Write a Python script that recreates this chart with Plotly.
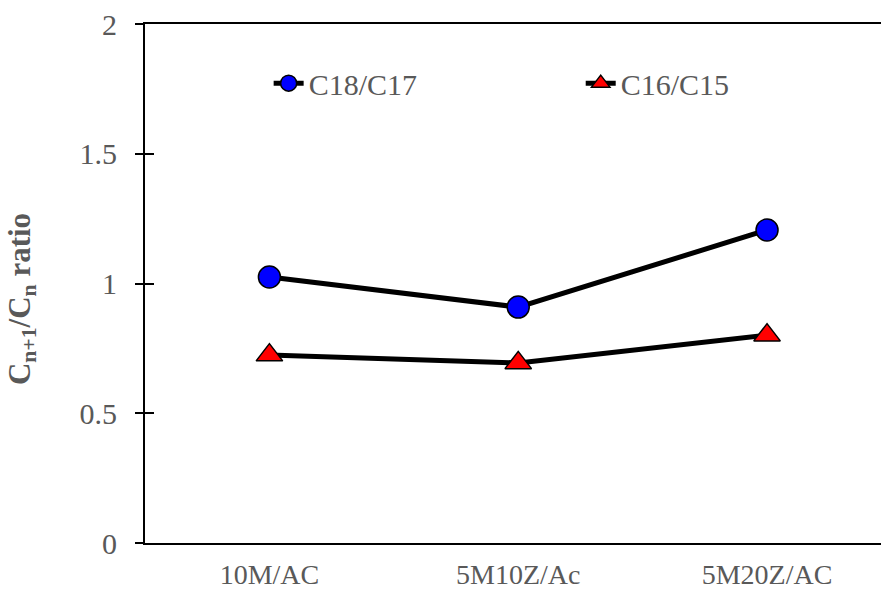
import plotly.graph_objects as go

# Catalyst samples along the x axis
categories = ["10M/AC", "5M10Z/Ac", "5M20Z/AC"]
x_pos = [0, 1, 2]

# Odd/even carbon-number ratios for each sample
c18_c17 = [1.025, 0.909, 1.206]
c16_c15 = [0.724, 0.694, 0.801]

y_ticks = [0, 0.5, 1, 1.5, 2]
y_tick_text = ["0", "0.5", "1", "1.5", "2"]

FONT = "Liberation Serif"
GRAY = "#595959"

fig = go.Figure()

fig.add_trace(go.Scatter(
    x=x_pos, y=c18_c17, name="C18/C17", mode="lines+markers",
    line=dict(color="black", width=5),
    marker=dict(symbol="circle", size=22, color="#0000FF",
                line=dict(color="black", width=1.5)),
    legend="legend",
))
fig.add_trace(go.Scatter(
    x=x_pos, y=c16_c15, name="C16/C15", mode="lines+markers",
    line=dict(color="black", width=5),
    marker=dict(symbol="triangle-up", size=23, color="#FF0000",
                line=dict(color="black", width=1.5)),
    legend="legend2",
))

legend_style = dict(
    bgcolor="rgba(0,0,0,0)", borderwidth=0,
    font=dict(family=FONT, size=30, color=GRAY),
    yanchor="middle", xanchor="left",
)

fig.update_layout(
    width=881, height=590,
    margin=dict(l=145, r=0, t=24, b=47),
    paper_bgcolor="white", plot_bgcolor="white",
    font=dict(family=FONT, size=30, color=GRAY),
    showlegend=True,
    legend=dict(x=0.168, y=0.886, **legend_style),
    legend2=dict(x=0.592, y=0.886, **legend_style),
    xaxis=dict(
        range=[-0.5, 2.458],
        tickvals=x_pos, ticktext=categories,
        showgrid=False, zeroline=False, automargin=False,
        showline=True, linecolor="black", linewidth=2, mirror=True,
        ticks="", ticklabelstandoff=5,
        tickfont=dict(family=FONT, size=28, color=GRAY),
    ),
    yaxis=dict(
        range=[0, 2],
        tickvals=y_ticks, ticktext=y_tick_text,
        showgrid=False, zeroline=False, automargin=False,
        showline=True, linecolor="black", linewidth=2,
        ticks="outside", ticklen=8, tickwidth=2, tickcolor="black",
        ticklabelstandoff=12,
        tickfont=dict(family=FONT, size=30, color=GRAY),
    ),
    # companion axis carrying the inward half of the y ticks
    yaxis2=dict(
        range=[0, 2], overlaying="y", side="left",
        tickvals=y_ticks, showticklabels=False,
        ticks="inside", ticklen=9, tickwidth=2, tickcolor="black",
        showgrid=False, zeroline=False, showline=False, automargin=False,
    ),
    annotations=[dict(
        text="<b>C<sub>n+1</sub>/C<sub>n</sub> ratio</b>",
        xref="paper", yref="paper", x=-0.1671, y=0.470,
        xanchor="center", yanchor="middle", textangle=-90,
        showarrow=False,
        font=dict(family=FONT, size=31, color=GRAY),
    )],
)

# invisible trace so the companion axis is drawn
fig.add_trace(go.Scatter(x=[None], y=[None], yaxis="y2", showlegend=False,
                         hoverinfo="skip"))

fig.write_html("out.html")
